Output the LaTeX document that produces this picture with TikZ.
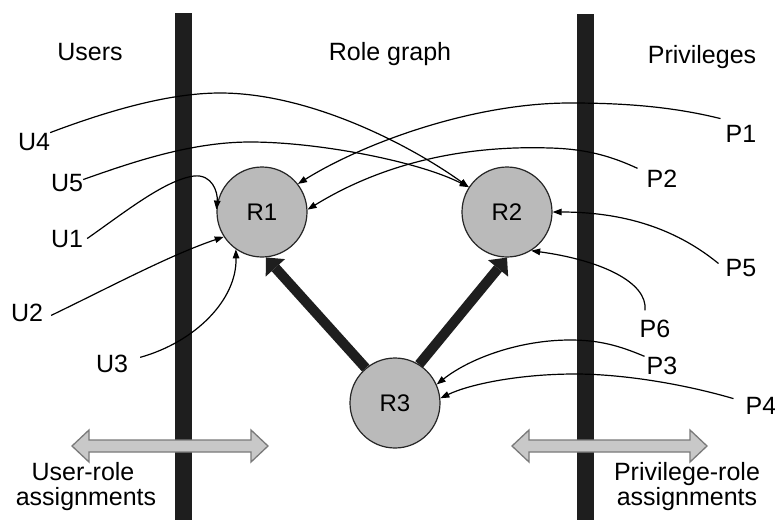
\documentclass[tikz,border=0pt]{standalone}
\usepackage{fontspec}
\setmainfont{Liberation Sans}
\usetikzlibrary{arrows.meta}
\definecolor{barc}{HTML}{1E1E1E}
\definecolor{rolefill}{HTML}{BABABA}
\definecolor{dafill}{HTML}{C8C8C8}
\definecolor{daedge}{HTML}{7A7A7A}
\begin{document}
\begin{tikzpicture}[x=1pt,y=-1pt,
  lbl/.style={inner sep=0pt, anchor=base, font=\fontsize{25}{28}\selectfont},
  role/.style={circle, draw=black!85, line width=1.2pt, fill=rolefill, minimum size=90pt, inner sep=0pt, font=\fontsize{24}{28}\selectfont},
  link/.style={line width=1.2pt, -{Triangle[length=9pt,width=6.5pt]}},
  hier/.style={line width=10pt, draw=barc, -{Triangle[length=14pt,width=26pt,line width=0pt]}},
  dblarrow/.style={fill=dafill, draw=daedge, line width=1.3pt, line join=miter},
  divider/.style={fill=barc}]
\useasboundingbox (0,0) rectangle (775,520);
\fill[white] (0,0) rectangle (775,520);

% dividing bars
\fill[divider] (175,13) rectangle (192,520);
\fill[divider] (577,14) rectangle (594,520);

% assignment double arrows
\draw[dblarrow] (72,446) -- (89,430) -- (89,440) -- (251,440) -- (251,430) -- (268,446)
  -- (251,462) -- (251,452) -- (89,452) -- (89,462) -- cycle;
\draw[dblarrow] (512,446) -- (529,430) -- (529,440) -- (690,440) -- (690,430) -- (707,446)
  -- (690,462) -- (690,452) -- (529,452) -- (529,462) -- cycle;

% titles
\node[lbl] (users) at (90,60) {Users};
\node[lbl] (rolegraph) at (390,60) {Role graph};
\node[lbl] (privs) at (702,63) {Privileges};
\node[lbl] (ur1) at (83,480) {User-role};
\node[lbl] (ur2) at (86,505) {assignments};
\node[lbl] (pr1) at (687,480) {Privilege-role};
\node[lbl] (pr2) at (687,505) {assignments};

% users
\node[lbl] (U4) at (34,150) {U4};
\node[lbl] (U5) at (67,191) {U5};
\node[lbl] (U1) at (67,247) {U1};
\node[lbl] (U2) at (27,321) {U2};
\node[lbl] (U3) at (112,372) {U3};

% privileges
\node[lbl] (P1) at (741,142) {P1};
\node[lbl] (P2) at (662,187) {P2};
\node[lbl] (P5) at (741,276) {P5};
\node[lbl] (P6) at (655,337) {P6};
\node[lbl] (P3) at (662,374) {P3};
\node[lbl] (P4) at (761,414) {P4};

% roles
\node[role] (R1) at (262,212) {R1};
\node[role] (R2) at (507,212) {R2};
\node[role] (R3) at (395,403) {R3};

% user-role assignments
\draw[link] (U4.north east) .. controls (110,110) and (170,93) .. (220,93)
  .. controls (310,93) and (410,145) .. (R2.147);
\draw[link] ([yshift=3pt]U5.east) .. controls (130,163) and (190,142) .. (250,142)
  .. controls (320,142) and (420,162) .. (R2.147);
\draw[link] ([xshift=4pt]U1.east) .. controls (125,212) and (165,180) .. (194,176)
  .. controls (212,174) and (218,192) .. (R1.177);
\draw[link] ([xshift=8pt,yshift=-3pt]U2.east) .. controls (110,287) and (170,255) .. (R1.213);
\draw[link] ([xshift=12pt,yshift=-3pt]U3.north east) .. controls (195,342) and (237,300) .. (R1.235);

% privilege-role assignments
\draw[link] ([xshift=-5pt,yshift=6pt]P1.north west) .. controls (670,106) and (620,103) .. (570,103)
  .. controls (470,103) and (360,145) .. (R1.38);
\draw[link] ([xshift=-9pt,yshift=1pt]P2.north west) .. controls (615,158) and (590,149) .. (550,148)
  .. controls (460,145) and (380,165) .. (R1.3);
\draw[link] ([xshift=-7pt,yshift=4pt]P5.west) .. controls (680,232) and (630,212) .. (R2.0);
\draw[link] ([xshift=-10pt,yshift=9pt]P6.north) .. controls (648,282) and (600,260) .. (R2.-58);
\draw[link] ([xshift=-2pt]P3.north west) .. controls (620,346) and (600,340) .. (570,340)
  .. controls (520,340) and (470,358) .. (R3.24);
\draw[link] ([xshift=-12pt,yshift=-2pt]P4.north west) .. controls (680,383) and (620,374) .. (575,374)
  .. controls (520,374) and (470,384) .. (R3.6);

% role hierarchy
\draw[hier] (R3.130) -- (R1.-85);
\draw[hier] (R3.58) -- (R2.-90);
\end{tikzpicture}
\end{document}
